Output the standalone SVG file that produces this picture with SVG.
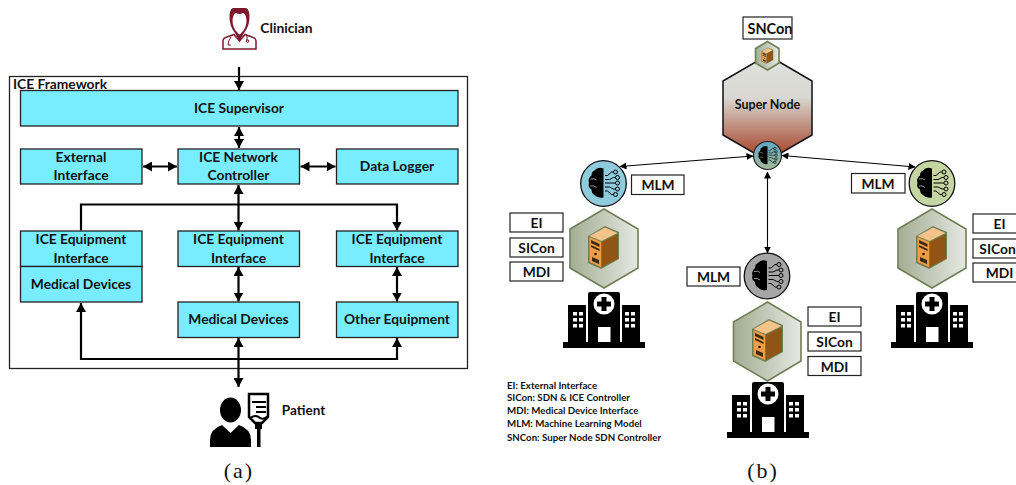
<svg xmlns="http://www.w3.org/2000/svg" xmlns:xlink="http://www.w3.org/1999/xlink" width="1016" height="485" viewBox="0 0 1016 485">
<style>
text{font-family:"Lato","Open Sans","Liberation Sans",sans-serif;font-weight:700;fill:#111;text-anchor:middle}
.b{fill:#78edff;stroke:#222;stroke-width:1.3}
.w{fill:#fff;stroke:#222;stroke-width:1.2}
.t{font-size:13.8px}
.l{font-size:9.7px;text-anchor:start}
.cap{font-family:"Liberation Serif",serif;font-weight:400;font-size:22px;letter-spacing:2px}
.c{fill:none;stroke:#000;stroke-width:2.2}
.d{marker-start:url(#hs);marker-end:url(#he)}
.e{marker-end:url(#he)}
.n{fill:none;stroke:#000;stroke-width:1.1;marker-start:url(#ts);marker-end:url(#te)}
.hx{stroke:#6f7f55;stroke-width:1.6;fill:url(#hg)}
</style>
<defs>
<marker id="he" markerUnits="userSpaceOnUse" markerWidth="10" markerHeight="10" refX="9" refY="5" orient="auto"><path d="M0 0L9 5L0 10Z"/></marker>
<marker id="hs" markerUnits="userSpaceOnUse" markerWidth="10" markerHeight="10" refX="0" refY="5" orient="auto"><path d="M9 0L0 5L9 10Z"/></marker>
<marker id="te" markerUnits="userSpaceOnUse" markerWidth="7" markerHeight="7" refX="6.5" refY="3.5" orient="auto"><path d="M0 0L7 3.5L0 7Z"/></marker>
<marker id="ts" markerUnits="userSpaceOnUse" markerWidth="7" markerHeight="7" refX="0.5" refY="3.5" orient="auto"><path d="M7 0L0 3.5L7 7Z"/></marker>
<linearGradient id="hg" x1="0" x2="1" y1="0" y2="0"><stop offset="0" stop-color="#a3ad93"/><stop offset="1" stop-color="#e6e8e2"/></linearGradient>
<linearGradient id="sg" x1="0" x2="0" y1="0" y2="1"><stop offset="0" stop-color="#dfe2dd"/><stop offset=".4" stop-color="#d9d8d2"/><stop offset=".95" stop-color="#a5442a"/></linearGradient>
<linearGradient id="mg" x1="0" x2="0" y1="0" y2="1"><stop offset="0" stop-color="#5ea9c4"/><stop offset="1" stop-color="#a8b89a"/></linearGradient>
<clipPath id="pc"><rect x="200" y="385" width="80" height="62"/></clipPath>
<symbol id="hospital" viewBox="0 0 82 56" width="82" height="56" overflow="visible">
<path d="M0 50H82V56H0ZM5 13H23V50H5ZM59 13H77V50H59ZM25 2Q25 0 27 0H55Q57 0 57 2V50H25Z" fill="#000"/>
<circle cx="41" cy="12" r="10.5" fill="#fff"/><path d="M38.5 5H43.5V9.500H48V14.500H43.500V19H38.500V14.500H34V9.500H38.500Z" fill="#000"/>
<rect x="35" y="35" width="12.500" height="15" fill="#fff"/>
<path fill="#fff" d="M10 20h4v3.500h-4zM16 20h4v3.500h-4zM10 26h4v3.500h-4zM16 26h4v3.500h-4zM10 32h4v3.500h-4zM16 32h4v3.500h-4zM62 20h4v3.500h-4zM68 20h4v3.500h-4zM62 26h4v3.500h-4zM68 26h4v3.500h-4zM62 32h4v3.500h-4zM68 32h4v3.500h-4z"/>
</symbol>
<symbol id="server" viewBox="0 0 31 43" width="31" height="43" overflow="visible">
<path d="M0 10L17 0L31 6V33L13 43L0 37Z" fill="#6f7f55"/>
<path d="M1.500 10L17 1.500L29.500 7L13.500 15Z" fill="#f3c38a"/>
<path d="M1.500 11L13 16V41L1.500 36Z" fill="#ee9c45"/>
<path d="M14 16L30 8V32.500L14 41Z" fill="#8f5416"/>
<path d="M3 14L11.500 18V21L3 17ZM3 19L11.500 23V25L3 21ZM4 31L11 34V38L4 35Z" fill="#3a2a12"/>
<circle cx="7.500" cy="28" r="1.300" fill="#2b1c08"/>
</symbol>
<symbol id="brain" viewBox="0 0 46 46" width="46" height="46" overflow="visible">
<path d="M23 8Q17 6 14 10Q11 11 11 15Q7 18 8.500 22.500Q7 27 11 29Q11 33 14 34.500Q17 38 23 37Z" fill="#000"/>
<path d="M10 18.500Q14 17.500 16 19.500M10 25.500Q13 24.500 16 27" stroke="#fff" stroke-width="1" fill="none" opacity=".6"/>
<path d="M24.500 15H27L31 11.500H33M24.500 19H29L33 17H35M24.500 22.500H35M24.500 26.500H29L33 28.500H35M24.500 30.500H27L31 34H33" fill="none" stroke="#000" stroke-width="1"/>
<g fill="none" stroke="#000" stroke-width="1"><circle cx="35" cy="11.500" r="2"/><circle cx="37" cy="17" r="2"/><circle cx="37" cy="22.500" r="2"/><circle cx="37" cy="28.500" r="2"/><circle cx="35" cy="34" r="2"/></g>
</symbol>
</defs>

<g id="frame"><rect x="9.500" y="76.500" width="458" height="292" fill="#fff" stroke="#222" stroke-width="1.300"/><text x="13" y="88.500" class="t" style="text-anchor:start">ICE Framework</text></g>

<g id="connectors">
<path class="c e" d="M239 67V90"/>
<path class="c d" d="M239 127V148"/>
<path class="c d" d="M143 166.500H177"/>
<path class="c d" d="M300.500 166.500H335.500"/>
<path class="c d" d="M238.500 185V230.500"/>
<path class="c e" d="M81 230.500V204.500H397V230.500"/>
<path class="c d" d="M238.500 267V301.500"/>
<path class="c d" d="M397 267V301.500"/>
<path class="c d" d="M81 303V359H397V338"/>
<path class="c d" d="M238.500 338V387"/>
</g>

<g id="supervisor"><rect class="b" x="20.500" y="90.500" width="437.500" height="35.500"/><text class="t" x="239" y="113">ICE Supervisor</text></g>
<g id="external"><rect class="b" x="20.500" y="149" width="121.500" height="35"/><text class="t" x="81" y="162">External</text><text class="t" x="81" y="180">Interface</text></g>
<g id="network"><rect class="b" x="178" y="149" width="121.500" height="35"/><text class="t" x="238.500" y="162">ICE Network</text><text class="t" x="238.500" y="180">Controller</text></g>
<g id="logger"><rect class="b" x="336.500" y="149" width="121.500" height="35"/><text class="t" x="397" y="171">Data Logger</text></g>
<g id="eq1"><rect class="b" x="20.500" y="231" width="121.500" height="35.500"/><text class="t" x="81" y="244">ICE Equipment</text><text class="t" x="81" y="263">Interface</text></g>
<g id="md1"><rect class="b" x="20.500" y="266.500" width="121.500" height="35.500"/><text class="t" x="81" y="289">Medical Devices</text></g>
<g id="eq2"><rect class="b" x="178" y="231" width="121.500" height="35.500"/><text class="t" x="238.500" y="244">ICE Equipment</text><text class="t" x="238.500" y="263">Interface</text></g>
<g id="md2"><rect class="b" x="178" y="302" width="121.500" height="35.500"/><text class="t" x="238.500" y="324">Medical Devices</text></g>
<g id="eq3"><rect class="b" x="336.500" y="231" width="121.500" height="35.500"/><text class="t" x="397" y="244">ICE Equipment</text><text class="t" x="397" y="263">Interface</text></g>
<g id="other"><rect class="b" x="336.500" y="302" width="121.500" height="35.500"/><text class="t" x="397" y="324">Other Equipment</text></g>

<g id="clinician">
<path d="M223 49V41Q223 38 227 37L234 34.500L239.500 41L245 34.500L252 37Q256 38 256 41V49Z" fill="#fff" stroke="#7b1a2e" stroke-width="1.500"/>
<path d="M235 33Q229 26 229.500 15Q230 9 233 8H246Q249 9 249.500 15Q250 26 244 33L239.500 41Z" fill="#7b1a2e"/>
<path d="M232.500 20Q233 14 236 13Q239.500 15 243 13Q246 14 246.500 20Q246.500 27 243 31Q240 34.500 239.500 34.500Q239 34.500 236 31Q232.500 27 232.500 20Z" fill="#fff"/>
<path d="M231 37Q228 41 228 45H231M247 36V41" fill="none" stroke="#7b1a2e" stroke-width="1"/><circle cx="247.500" cy="41" r="1.300" fill="none" stroke="#7b1a2e"/>
<text x="286.500" y="33" class="t">Clinician</text>
</g>

<g id="patient">
<g clip-path="url(#pc)">
<ellipse cx="230.500" cy="410" rx="10.500" ry="12.500"/>
<path d="M210 447V440Q210 429 222 425L230.500 433L239 425Q251 429 251 440V447Z"/>
<path d="M249 394H268V417L262 423H255L249 417Z" fill="#fff" stroke="#000" stroke-width="2.500"/>
<path d="M252 402H266M256 407H266M256 412H266M250 418Q256 414 260 418Q264 420 268 416" fill="none" stroke="#000" stroke-width="2"/>
<rect x="255" y="423" width="7" height="6"/><rect x="257" y="428" width="3.500" height="20"/>
</g>
<text x="303.500" y="415" class="t" style="font-size:13.500px">Patient</text>
</g>
<text class="cap" x="239" y="478">(a)</text>

<g id="connectors-b">
<path class="n" d="M620 166.500L753 156"/>
<path class="n" d="M782 155.500L915 167"/>
<path class="n" d="M767.500 172V253"/>
</g>

<g id="super-node">
<path d="M767.500 55L812 81V135L767.500 161L723 135V81Z" fill="url(#sg)" stroke="#111" stroke-width="1.500"/>
<text x="767.500" y="109" class="t" style="font-size:12.500px">Super Node</text>
</g>
<g id="sncon-hex"><path class="hx" d="M767.500 41.500L779 48.500V63L767.500 70L755.500 63V48.500Z"/><use href="#server" transform="translate(761.500 47.500) scale(.38)"/></g>
<g id="sncon"><rect class="w" x="743" y="17" width="49" height="22"/><text x="770" y="34" class="t" style="font-size:14.500px">SNCon</text></g>
<g id="mlm-top"><circle cx="767.500" cy="155.500" r="14" fill="url(#mg)" stroke="#222" stroke-width="1.200"/><use href="#brain" transform="translate(753.500 141.500) scale(.61)"/></g>

<g id="mlm-left"><circle cx="603.500" cy="183.500" r="22.800" fill="#8ecbdc" stroke="#111" stroke-width="1.300"/><use href="#brain" x="580.500" y="160.500"/></g>
<g id="mlm-left-label"><rect class="w" x="631.500" y="175" width="52.500" height="19.500"/><text x="658" y="190" class="t">MLM</text></g>
<g id="hex-left"><path class="hx" d="M604 209L638 229V268L604 288L570 268V229Z"/><use href="#server" x="588" y="226"/></g>
<g id="ei-left"><rect class="w" x="510" y="213" width="53" height="19"/><text x="536.500" y="228" class="t">EI</text></g>
<g id="sicon-left"><rect class="w" x="510" y="238" width="53" height="19"/><text x="536.500" y="253" class="t">SICon</text></g>
<g id="mdi-left"><rect class="w" x="510" y="262" width="53" height="19"/><text x="536.500" y="277" class="t">MDI</text></g>
<g id="hospital-left"><use href="#hospital" x="563" y="292"/></g>

<g id="mlm-right"><circle cx="932" cy="183.500" r="22.800" fill="#c5d6a2" stroke="#111" stroke-width="1.300"/><use href="#brain" x="909" y="160.500"/></g>
<g id="mlm-right-label"><rect class="w" x="851.500" y="173.500" width="53.500" height="19.500"/><text x="878" y="188.500" class="t">MLM</text></g>
<g id="hex-right"><path class="hx" d="M932 209L966 229V268L932 288L898 268V229Z"/><use href="#server" x="916" y="226"/></g>
<g id="ei-right"><rect class="w" x="973" y="214" width="53" height="19"/><text x="999.500" y="229" class="t">EI</text></g>
<g id="sicon-right"><rect class="w" x="973" y="239" width="53" height="19"/><text x="997.500" y="254" class="t">SICon</text></g>
<g id="mdi-right"><rect class="w" x="973" y="263" width="53" height="19"/><text x="999.500" y="278" class="t">MDI</text></g>
<g id="hospital-right"><use href="#hospital" x="891" y="292"/></g>

<g id="mlm-mid"><circle cx="767" cy="276" r="22.800" fill="#a6a6a6" stroke="#111" stroke-width="1.300"/><use href="#brain" x="744" y="253"/></g>
<g id="mlm-mid-label"><rect class="w" x="687" y="267" width="53" height="19"/><text x="713.500" y="282" class="t">MLM</text></g>
<g id="hex-mid"><path class="hx" d="M767.500 302L801 322V361L767.500 381L733.500 361V322Z"/><use href="#server" x="752" y="319"/></g>
<g id="ei-mid"><rect class="w" x="808" y="307" width="53" height="19"/><text x="834.500" y="322" class="t">EI</text></g>
<g id="sicon-mid"><rect class="w" x="808" y="332" width="53" height="19"/><text x="834.500" y="347" class="t">SICon</text></g>
<g id="mdi-mid"><rect class="w" x="808" y="356.500" width="53" height="19"/><text x="834.500" y="372" class="t">MDI</text></g>
<g id="hospital-mid"><use href="#hospital" x="727" y="382"/></g>

<g id="legend">
<text class="l" x="507" y="389">EI: External Interface</text>
<text class="l" x="507" y="401">SICon: SDN &amp; ICE Controller</text>
<text class="l" x="507" y="414">MDI: Medical Device Interface</text>
<text class="l" x="507" y="427">MLM: Machine Learning Model</text>
<text class="l" x="507" y="441">SNCon: Super Node SDN Controller</text>
</g>
<text class="cap" x="763" y="478">(b)</text>
</svg>
